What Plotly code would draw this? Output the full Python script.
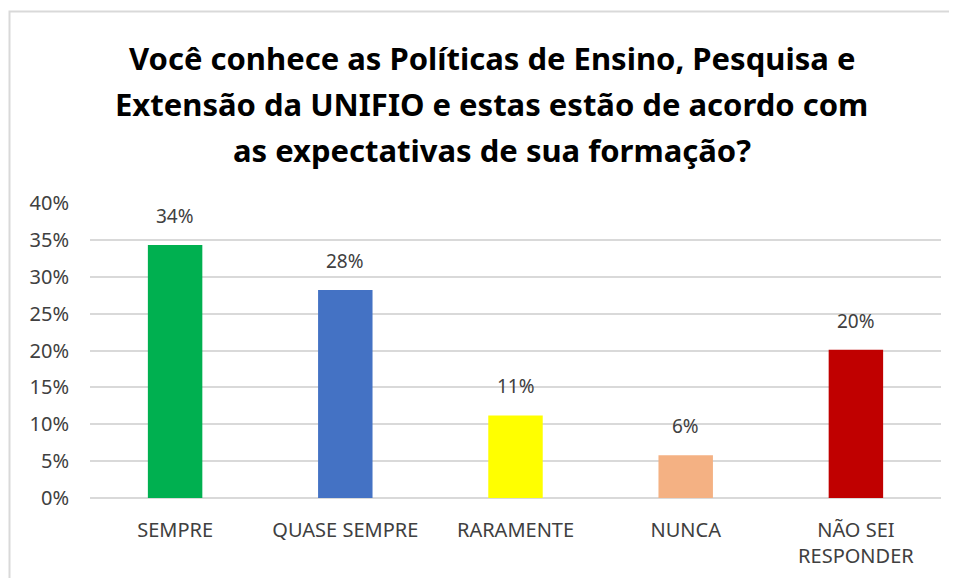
import plotly.graph_objects as go

categories = ["SEMPRE", "QUASE SEMPRE", "RARAMENTE", "NUNCA", "NÃO SEI<br>RESPONDER"]
values = [0.343, 0.282, 0.112, 0.058, 0.201]
labels = ["34%", "28%", "11%", "6%", "20%"]
colors = ["#00B050", "#4472C4", "#FFFF00", "#F4B183", "#C00000"]
title_lines = [
    "Você conhece as Políticas de Ensino, Pesquisa e",
    "Extensão da UNIFIO e estas estão de acordo com",
    "as expectativas de sua formação?",
]
y_ticks = [0, 0.05, 0.10, 0.15, 0.20, 0.25, 0.30, 0.35, 0.40]

FONT = "Noto Sans"

fig = go.Figure()
fig.add_trace(go.Bar(
    x=categories,
    y=values,
    marker=dict(color=colors, line=dict(width=0)),
    width=0.32,
))

# data labels sit a bit higher above the bars than plotly's "outside" text
for cat, val, lab in zip(categories, values, labels):
    fig.add_annotation(
        x=cat, y=val, text=lab,
        showarrow=False, yanchor="bottom", yshift=14,
        font=dict(size=19, color="#404040", family=FONT),
    )

# title as three lines to get the wide line spacing
for i, line in enumerate(title_lines):
    fig.add_annotation(
        text="<b>" + line + "</b>",
        xref="paper", yref="paper",
        x=0.472, y=1.49 - i * 0.155,
        xanchor="center", yanchor="middle",
        showarrow=False,
        font=dict(size=31, color="#000000", family=FONT),
    )

# outer chart border
fig.add_shape(
    type="rect", xref="paper", yref="paper",
    x0=(1.5 - 82) / 851, x1=1.05,
    y0=-0.5, y1=(490 - 3.5) / 295,
    line=dict(color="#D9D9D9", width=2),
    fillcolor="rgba(0,0,0,0)",
    layer="below",
)

fig.update_layout(
    width=949, height=570,
    margin=dict(l=82, r=16, t=195, b=80),
    paper_bgcolor="white",
    plot_bgcolor="white",
    showlegend=False,
    bargap=0.68,
    font=dict(family=FONT, color="#404040", size=18),
)
fig.update_xaxes(
    showgrid=False,
    showline=False,
    ticks="",
    tickfont=dict(size=20, color="#404040"),
    ticklabelstandoff=18,
    automargin=False,
)
fig.update_yaxes(
    range=[0, 0.40],
    tickvals=y_ticks,
    tickformat=".0%",
    showgrid=True,
    gridcolor="#D9D9D9",
    gridwidth=1.5,
    zeroline=True,
    zerolinecolor="#D9D9D9",
    zerolinewidth=1.5,
    showline=False,
    ticks="",
    tickfont=dict(size=20, color="#404040"),
    ticklabelstandoff=20,
    automargin=False,
)

fig.write_html("out.html")
